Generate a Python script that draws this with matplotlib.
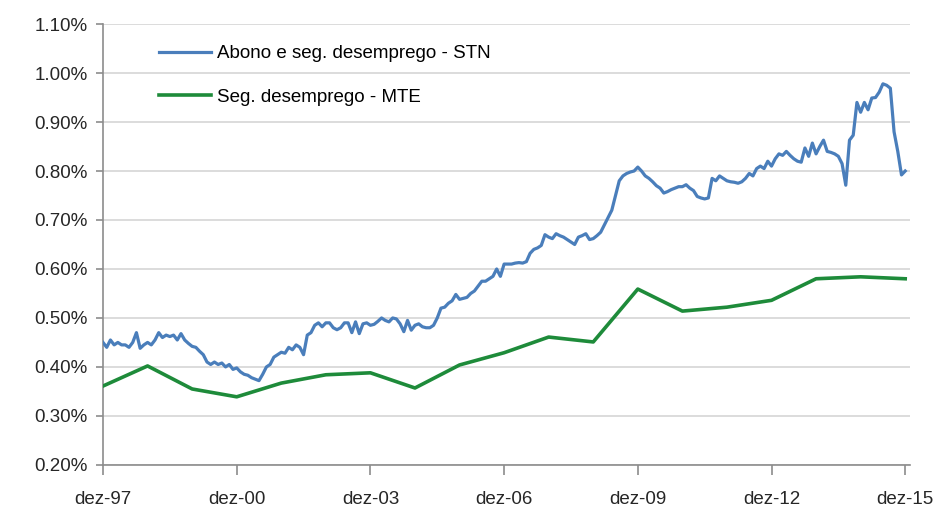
import matplotlib
matplotlib.use("Agg")
import matplotlib.pyplot as plt
import numpy as np

# Abono e seg. desemprego - STN (mensal, dez-97 a dez-15), em % do PIB
stn = [
    0.450,  # dez-97
    0.440, 0.455, 0.445, 0.450, 0.445, 0.445, 0.440, 0.450, 0.470, 0.438, 0.445, 0.450,  # 1998
    0.445, 0.455, 0.470, 0.460, 0.465, 0.462, 0.465, 0.455, 0.468, 0.455, 0.448, 0.442,  # 1999
    0.440, 0.432, 0.425, 0.410, 0.405, 0.410, 0.405, 0.408, 0.400, 0.405, 0.395, 0.398,  # 2000
    0.390, 0.385, 0.383, 0.378, 0.375, 0.372, 0.385, 0.400, 0.405, 0.420, 0.425, 0.430,  # 2001
    0.428, 0.440, 0.435, 0.445, 0.440, 0.425, 0.465, 0.470, 0.485, 0.490, 0.482, 0.490,  # 2002
    0.490, 0.480, 0.476, 0.480, 0.490, 0.490, 0.470, 0.492, 0.468, 0.488, 0.490, 0.485,  # 2003
    0.487, 0.493, 0.500, 0.495, 0.492, 0.500, 0.498, 0.488, 0.472, 0.495, 0.475, 0.485,  # 2004
    0.488, 0.482, 0.480, 0.480, 0.485, 0.500, 0.520, 0.522, 0.530, 0.535, 0.548, 0.538,  # 2005
    0.540, 0.542, 0.550, 0.555, 0.565, 0.575, 0.575, 0.580, 0.585, 0.600, 0.585, 0.610,  # 2006
    0.610, 0.610, 0.612, 0.613, 0.612, 0.615, 0.632, 0.640, 0.643, 0.648, 0.670, 0.665,  # 2007
    0.662, 0.672, 0.668, 0.665, 0.660, 0.655, 0.650, 0.665, 0.668, 0.672, 0.660, 0.662,  # 2008
    0.668, 0.675, 0.690, 0.705, 0.720, 0.750, 0.780, 0.790, 0.795, 0.798, 0.800, 0.808,  # 2009
    0.800, 0.790, 0.785, 0.778, 0.770, 0.765, 0.755, 0.758, 0.762, 0.765, 0.768, 0.768,  # 2010
    0.772, 0.765, 0.760, 0.748, 0.745, 0.743, 0.745, 0.785, 0.780, 0.790, 0.785, 0.780,  # 2011
    0.778, 0.777, 0.775, 0.778, 0.785, 0.795, 0.790, 0.805, 0.810, 0.805, 0.820, 0.810,  # 2012
    0.825, 0.835, 0.832, 0.840, 0.832, 0.825, 0.820, 0.818, 0.847, 0.830, 0.857, 0.835,  # 2013
    0.850, 0.863, 0.840, 0.838, 0.835, 0.830, 0.815, 0.771, 0.863, 0.873, 0.940, 0.920,  # 2014
    0.940, 0.925, 0.949, 0.950, 0.961, 0.978, 0.975, 0.969, 0.880, 0.840, 0.792, 0.800,  # 2015
]

# Seg. desemprego - MTE (anual, dezembro de cada ano)
mte_anos = list(range(1997, 2016))
mte = [0.361, 0.402, 0.355, 0.339, 0.367, 0.384, 0.388, 0.357, 0.404, 0.429,
       0.461, 0.451, 0.559, 0.514, 0.522, 0.536, 0.580, 0.584, 0.580]

tick_anos = [1997, 2000, 2003, 2006, 2009, 2012, 2015]
tick_labels = ["dez-97", "dez-00", "dez-03", "dez-06", "dez-09", "dez-12", "dez-15"]
y_ticks = [0.2, 0.3, 0.4, 0.5, 0.6, 0.7, 0.8, 0.9, 1.0, 1.1]

plt.rcParams['font.family'] = ['Liberation Sans', 'DejaVu Sans']

# eixo x em meses contados a partir de dez-97
x_stn = np.arange(len(stn))
x_mte = [(a - 1997) * 12 for a in mte_anos]
x_ticks = [(a - 1997) * 12 for a in tick_anos]

fig = plt.figure(figsize=(9.45, 5.12), dpi=100)
ax = fig.add_axes([0.109, 0.092, 0.854, 0.861])

ax.plot(x_stn, stn, color='#4a7ebb', lw=2.3, label='Abono e seg. desemprego - STN', zorder=3)
ax.plot(x_mte, mte, color='#1e8b3a', lw=2.6, label='Seg. desemprego - MTE', zorder=3)

ax.set_xlim(0, len(stn) + 0.3)
ax.set_ylim(0.2, 1.1)
ax.set_yticks(y_ticks)
ax.set_yticklabels([f"{v:.2f}%" for v in y_ticks])
ax.set_xticks(x_ticks)
ax.set_xticklabels(tick_labels)

ax.grid(axis='y', color='#d9d9d9', lw=1.3, zorder=0)
ax.set_axisbelow(True)
for s in ['top', 'right']:
    ax.spines[s].set_visible(False)
for s in ['left', 'bottom']:
    ax.spines[s].set_color('#8c8c8c')
    ax.spines[s].set_linewidth(1.2)

ax.tick_params(axis='y', direction='out', length=5, color='#8c8c8c', width=1.2,
               labelsize=13.5, labelcolor='#262626', pad=6)
ax.tick_params(axis='x', direction='out', length=7, color='#8c8c8c', width=1.2,
               labelsize=13.5, labelcolor='#262626', pad=12)

ax.legend(loc='upper left', bbox_to_anchor=(0.048, 0.99), frameon=False,
          fontsize=13.5, handlelength=2.8, labelspacing=1.4, handletextpad=0.3)

fig.savefig("out.png", dpi=100)
